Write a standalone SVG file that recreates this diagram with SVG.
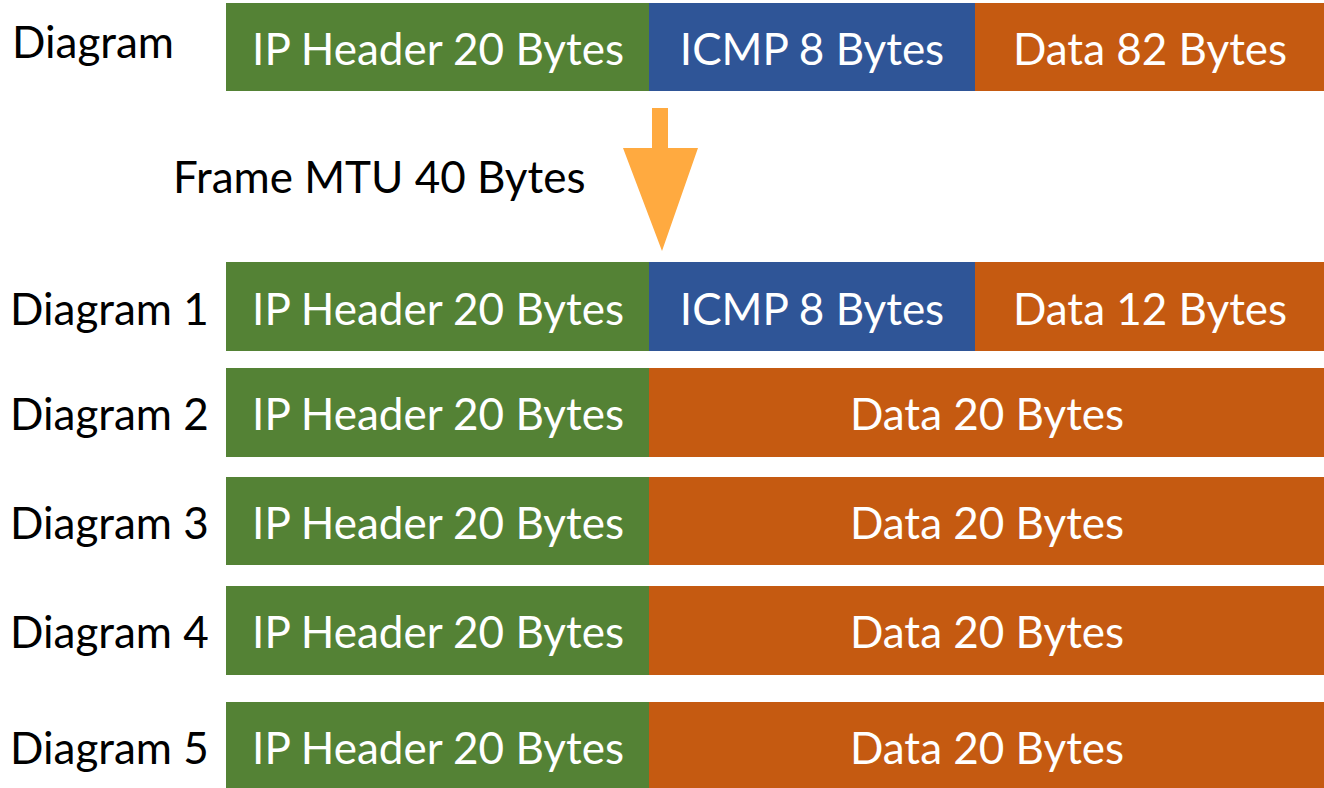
<svg xmlns="http://www.w3.org/2000/svg" width="1324" height="788" viewBox="0 0 1324 788">
  <style>
    .hdr { fill: #548235; }
    .icmp { fill: #2F5597; }
    .data { fill: #C55A11; }
    text { font-family: Lato, "Open Sans", sans-serif; font-size: 44px; }
    .in { fill: #FFFFFF; text-anchor: middle; }
    .lbl { fill: #000000; }
  </style>
  <rect width="1324" height="788" fill="#FFFFFF"/>

  <!-- original datagram -->
  <g id="diagram">
    <text class="lbl" x="12" y="58">Diagram</text>
    <rect class="hdr" x="226" y="3" width="423" height="88"/>
    <rect class="icmp" x="649" y="3" width="326" height="88"/>
    <rect class="data" x="975" y="3" width="349" height="88"/>
    <text class="in" x="438" y="65">IP Header 20 Bytes</text>
    <text class="in" x="812" y="65">ICMP 8 Bytes</text>
    <text class="in" x="1150" y="65">Data 82 Bytes</text>
  </g>

  <!-- fragmentation step -->
  <g id="connectors">
    <polygon fill="#FFAA40" points="652,108 668,108 668,148 698,148 662,251 623,148 652,148"/>
  </g>
  <g id="mtu">
    <text class="lbl" x="173" y="193">Frame MTU 40 Bytes</text>
  </g>

  <!-- fragments -->
  <g id="diagram1">
    <text class="lbl" x="10" y="325">Diagram 1</text>
    <rect class="hdr" x="226" y="262" width="423" height="89"/>
    <rect class="icmp" x="649" y="262" width="326" height="89"/>
    <rect class="data" x="975" y="262" width="349" height="89"/>
    <text class="in" x="438" y="325">IP Header 20 Bytes</text>
    <text class="in" x="812" y="325">ICMP 8 Bytes</text>
    <text class="in" x="1150" y="325">Data 12 Bytes</text>
  </g>

  <g id="diagram2">
    <text class="lbl" x="10" y="430">Diagram 2</text>
    <rect class="hdr" x="226" y="368" width="423" height="89"/>
    <rect class="data" x="649" y="368" width="675" height="89"/>
    <text class="in" x="438" y="430">IP Header 20 Bytes</text>
    <text class="in" x="987" y="430">Data 20 Bytes</text>
  </g>

  <g id="diagram3">
    <text class="lbl" x="10" y="539">Diagram 3</text>
    <rect class="hdr" x="226" y="477" width="423" height="88"/>
    <rect class="data" x="649" y="477" width="675" height="88"/>
    <text class="in" x="438" y="539">IP Header 20 Bytes</text>
    <text class="in" x="987" y="539">Data 20 Bytes</text>
  </g>

  <g id="diagram4">
    <text class="lbl" x="10" y="648">Diagram 4</text>
    <rect class="hdr" x="226" y="586" width="423" height="89"/>
    <rect class="data" x="649" y="586" width="675" height="89"/>
    <text class="in" x="438" y="648">IP Header 20 Bytes</text>
    <text class="in" x="987" y="648">Data 20 Bytes</text>
  </g>

  <g id="diagram5">
    <text class="lbl" x="10" y="764">Diagram 5</text>
    <rect class="hdr" x="226" y="702" width="423" height="86"/>
    <rect class="data" x="649" y="702" width="675" height="86"/>
    <text class="in" x="438" y="764">IP Header 20 Bytes</text>
    <text class="in" x="987" y="764">Data 20 Bytes</text>
  </g>
</svg>
